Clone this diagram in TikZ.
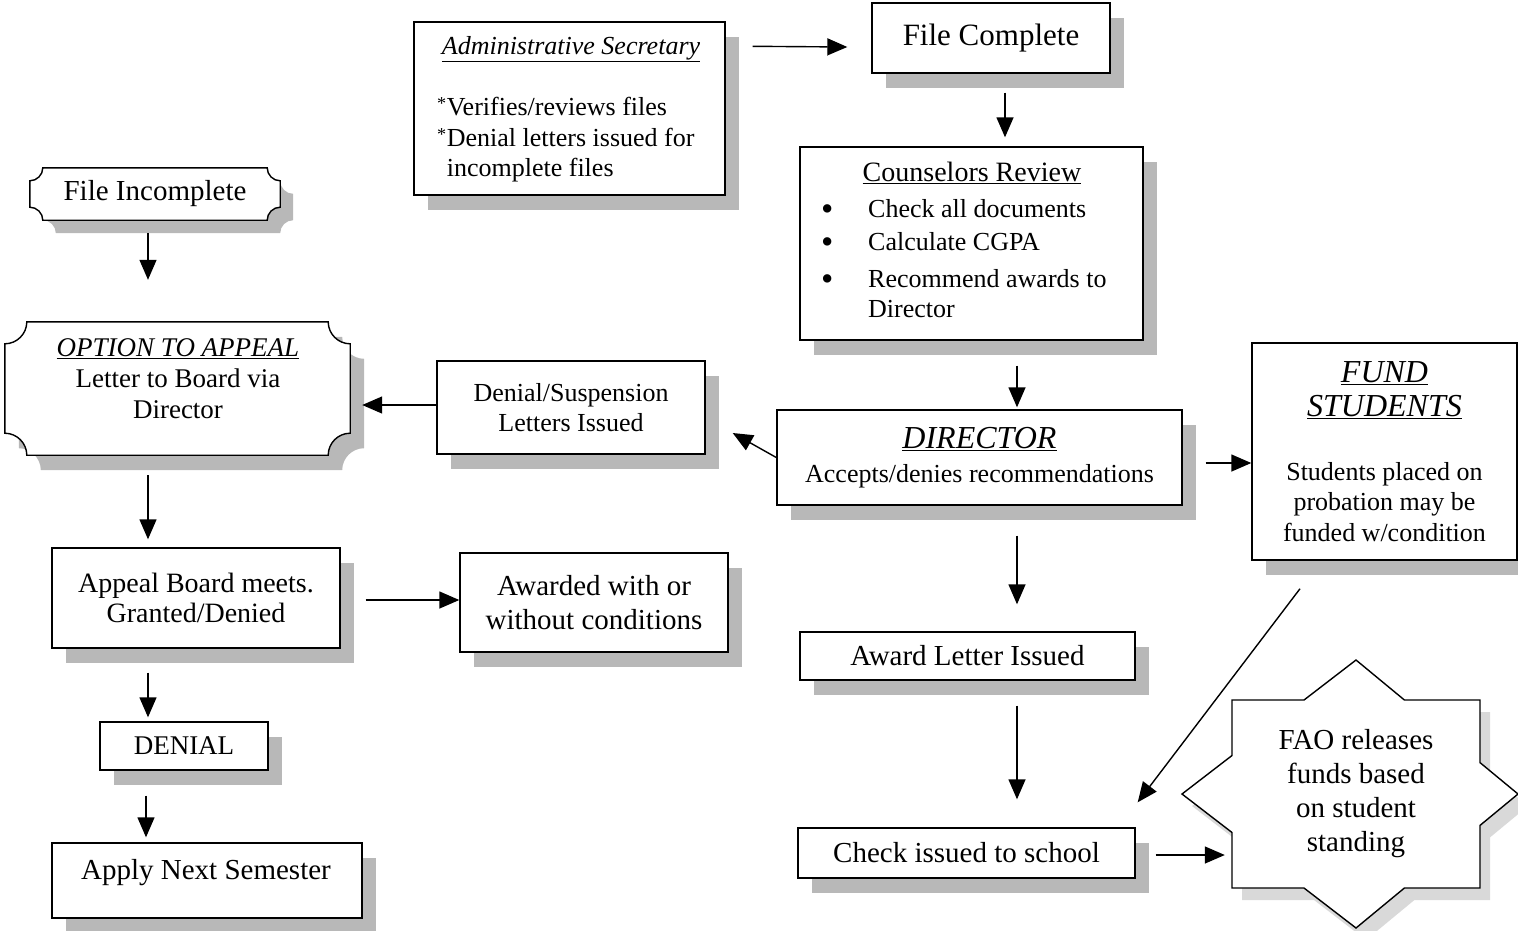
\documentclass[tikz,border=0pt]{standalone}
\usepackage{fontspec}
\usepackage{graphicx}
\setmainfont{Liberation Serif}
\usetikzlibrary{arrows.meta,calc,shadows}
\pgfdeclarelayer{bg}
\pgfsetlayers{bg,main}
\newcommand\fsz[2]{\fontsize{#1}{#2}\selectfont}
\newcommand\bigbul{\makebox[47pt][l]{\smash{\raisebox{-2.5pt}{\scalebox{1.35}{\textbullet}}}}}
% plaque outline: node, corner radius, dx, dy
\newcommand\plq[4]{%
($(#1.north west)+(#3+#2,#4)$) -- ($(#1.north east)+(#3-#2,#4)$)
.. controls ($(#1.north east)+(#3-#2,#4+0.55*#2)$) and ($(#1.north east)+(#3-0.55*#2,#4+#2)$) .. ($(#1.north east)+(#3,#4+#2)$)
-- ($(#1.south east)+(#3,#4-#2)$)
.. controls ($(#1.south east)+(#3-0.55*#2,#4-#2)$) and ($(#1.south east)+(#3-#2,#4-0.55*#2)$) .. ($(#1.south east)+(#3-#2,#4)$)
-- ($(#1.south west)+(#3+#2,#4)$)
.. controls ($(#1.south west)+(#3+#2,#4-0.55*#2)$) and ($(#1.south west)+(#3+0.55*#2,#4-#2)$) .. ($(#1.south west)+(#3,#4-#2)$)
-- ($(#1.north west)+(#3,#4+#2)$)
.. controls ($(#1.north west)+(#3+0.55*#2,#4+#2)$) and ($(#1.north west)+(#3+#2,#4+0.55*#2)$) .. ($(#1.north west)+(#3+#2,#4)$) -- cycle}
\begin{document}
\begin{tikzpicture}[x=1pt,y=-1pt,
  box/.style={draw, line width=1.4pt, fill=white, inner sep=0pt, align=center,
    drop shadow={shadow xshift=14pt, shadow yshift=-15pt, fill=black!28, opacity=1}},
  txt/.style={inner sep=0pt, align=center},
  plqbox/.style={inner sep=0pt, align=center},
  arr/.style={line width=1.4pt, -{Triangle[length=20pt,width=17pt]}},
  shadowfill/.style={fill=black!28},
  plqline/.style={fill=white, draw, line width=1.4pt}]
\useasboundingbox (0,0) rectangle (1518,930);

% ---------- top middle ----------
\node[box, minimum width=311, minimum height=173] (admin) at (569.5,108.5) {};
\node[txt, font=\fsz{26}{30}] (adminhead) at (571,49) {\underline{\textit{Administrative Secretary}}};
\node[txt, align=left, anchor=west, font=\fsz{26}{30.5}] (adminlist) at (437,140)
  {\raisebox{-3pt}{\textsuperscript{*}}Verifies/reviews files\\
   \raisebox{-3pt}{\textsuperscript{*}}Denial letters issued for\\
   \phantom{\textsuperscript{*}}incomplete files};

\node[box, minimum width=238, minimum height=70, font=\fsz{31}{34}] (fc) at (991,38) {File Complete};

\node[box, minimum width=343, minimum height=193] (couns) at (971.5,243.5) {};
\node[txt, font=\fsz{28}{30}] (counshead) at (972,173) {\underline{Counselors Review}};
\node[txt, align=left, anchor=west, font=\fsz{26}{30}] (counslist) at (821,259)
  {\bigbul Check all documents\\[3pt]
   \bigbul Calculate CGPA\\[7pt]
   \bigbul Recommend awards to\\
   \hspace*{47pt}Director};

\node[box, minimum width=405, minimum height=95, font=\fsz{26}{30}] (dir) at (979.5,457.5)
  {{\fsz{32}{34}\underline{\textit{DIRECTOR}}}\\[4pt] Accepts/denies recommendations};

\node[box, minimum width=268, minimum height=93, font=\fsz{26}{30}] (dsl) at (571,407.5)
  {Denial/Suspension\\Letters Issued};

\node[box, minimum width=265, minimum height=217, font=\fsz{26}{30.5}] (fund) at (1384.5,451.5)
  {{\fsz{32}{34}\underline{\textit{FUND}}}\\[4pt]
   {\fsz{32}{34}\underline{\textit{STUDENTS}}}\\[33pt]
   Students placed on\\probation may be\\funded w/condition};

% ---------- left column ----------
\node[plqbox, minimum width=250, minimum height=52, font=\fsz{29}{32}] (finc) at (155,194) {File Incomplete};
\node[plqbox, minimum width=345, minimum height=133] (appeal) at (177.5,388.5) {};
\node[txt, font=\fsz{27}{31}] (appealtxt) at (178,379)
  {\underline{\textit{OPTION TO APPEAL}}\\Letter to Board via\\Director};
\begin{pgfonlayer}{bg}
  \fill[shadowfill] \plq{finc}{13}{13}{13};
  \path[plqline] \plq{finc}{13}{0}{0};
  \fill[shadowfill] \plq{appeal}{22}{14}{15};
  \path[plqline] \plq{appeal}{22}{0}{0};
\end{pgfonlayer}

\node[box, minimum width=288, minimum height=100, font=\fsz{28}{30}] (board) at (196,598)
  {Appeal Board meets.\\Granted/Denied};
\node[box, minimum width=268, minimum height=99, font=\fsz{29}{34}] (awarded) at (594,602.5)
  {Awarded with or\\without conditions};
\node[box, minimum width=168, minimum height=48, font=\fsz{27}{30}] (denial) at (184,746) {DENIAL};
\node[box, minimum width=310, minimum height=75] (apply) at (207,880.5) {};
\node[txt, font=\fsz{29}{32}] (applytxt) at (206,873) {Apply Next Semester};

% ---------- right bottom ----------
\node[box, minimum width=335, minimum height=48, font=\fsz{29}{32}] (alet) at (967.5,656) {Award Letter Issued};
\node[box, minimum width=337, minimum height=50, font=\fsz{29}{32}] (check) at (966.5,853) {Check issued to school};

% star
\fill[black!15] (1366,672) -- (1414.4,712) -- (1490,712) -- (1490,774.6) -- (1528,806) -- (1490,837.4)
  -- (1490,900) -- (1414.4,900) -- (1366,940) -- (1314,900) -- (1242,900) -- (1242,844.5)
  -- (1192,806) -- (1242,767.5) -- (1242,712) -- (1314,712) -- cycle;
\filldraw[fill=white, line width=1.4pt] (1356,660) -- (1404.4,700) -- (1480,700) -- (1480,762.6) -- (1518,794)
  -- (1480,825.4) -- (1480,888) -- (1404.4,888) -- (1356,928) -- (1304,888) -- (1232,888)
  -- (1232,832.5) -- (1182,794) -- (1232,755.5) -- (1232,700) -- (1304,700) -- cycle;
\node[txt, minimum width=248, minimum height=188, font=\fsz{29}{34}] (fao) at (1356,794)
  {FAO releases\\funds based\\on student\\standing};

% ---------- connectors ----------
\draw[arr] ($(admin.north east)+(27,25)$) -- ($(fc.west)+(-24,9)$);
\draw[arr] ($(fc.south)+(14,19)$) -- ($(couns.north)+(33.5,-9)$);
\draw[arr] ($(couns.south)+(45.5,25)$) -- ($(dir.north)+(37.5,-2)$);
\draw[arr] (dir.west) -- ($(dsl.east)+(27,25.5)$);
\draw[arr] ($(dsl.west)+(0,-2.5)$) -- ($(appeal.east)+(12,16.5)$);
\draw[arr] ($(finc.south)+(-7,13)$) -- ($(appeal.north)+(-29.5,-42)$);
\draw[arr] ($(appeal.south)+(-29.5,20)$) -- ($(board.north)+(-48,-8)$);
\draw[arr] ($(board.east)+(25,2)$) -- ($(awarded.west)+(0,-2.5)$);
\draw[arr] ($(board.south)+(-48,24)$) -- ($(denial.north)+(-36,-4)$);
\draw[arr] ($(denial.south)+(-38,25)$) -- ($(apply.north)+(-61,-5)$);
\draw[arr] ($(dir.east)+(23,5.5)$) -- ($(fund.west)+(0,11.5)$);
\draw[arr] ($(dir.south)+(37.5,30)$) -- ($(alet.north)+(49.5,-27)$);
\draw[arr] ($(alet.south)+(49.5,25)$) -- ($(check.north)+(50.5,-28)$);
\draw[arr] ($(check.east)+(20,2)$) -- ($(fao.west)+(-7,61)$);
\draw[arr] ($(fund.south)+(-84.5,28)$) -- ($(check.north east)+(2,-25)$);
\end{tikzpicture}
\end{document}
